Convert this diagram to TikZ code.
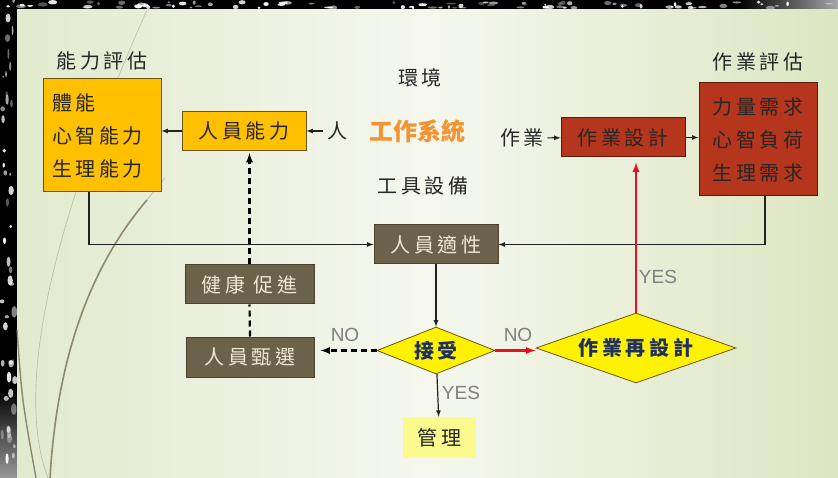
\documentclass[tikz,border=0pt]{standalone}
\usepackage{fontspec}
\usetikzlibrary{shapes.geometric}
\newfontfamily\cjk[LetterSpace=18]{Noto Sans CJK TC}
\newfontfamily\cjkplain{Noto Sans CJK TC}
\newfontfamily\yesno{Liberation Sans}
\definecolor{gold}{HTML}{FFC000}
\definecolor{goldline}{HTML}{6B5512}
\definecolor{rust}{HTML}{B5361C}
\definecolor{rustline}{HTML}{5A1A0A}
\definecolor{olive}{HTML}{6B6249}
\definecolor{oliveline}{HTML}{48432F}
\definecolor{olivetext}{HTML}{EFE7D2}
\definecolor{navy}{HTML}{1F2F5F}
\definecolor{paleyellow}{HTML}{FBFA8E}
\definecolor{sysorange}{HTML}{F59331}
\definecolor{bgedge}{HTML}{E1EACD}
\definecolor{bgmid}{HTML}{F5F7EE}
\definecolor{bgright}{HTML}{DCE6C2}
\definecolor{deco}{HTML}{7A7050}
\definecolor{flowline}{HTML}{222222}
\definecolor{redline}{HTML}{E8101C}
\tikzset{
  >=latex,
  txt/.style={font=\cjk\fontsize{20}{33}\selectfont, text=black!85},
  goldbox/.style={txt, draw=goldline, fill=gold, line width=1pt, inner sep=0pt},
  rustbox/.style={txt, draw=rustline, fill=rust, line width=1pt, inner sep=0pt},
  olivebox/.style={txt, draw=oliveline, fill=olive, text=olivetext, line width=1pt, inner sep=0pt},
  single/.style={minimum width=124, minimum height=39},
  tall/.style={minimum width=118, minimum height=113},
  decision/.style={diamond, shape aspect=2.5, draw=goldline, fill=yellow, line width=0.8pt,
    inner sep=0pt, font=\cjk\bfseries\fontsize{20}{22}\selectfont, text=navy},
  answer/.style={font=\yesno\fontsize{19}{22}\selectfont, text=black!50},
  flow/.style={line width=1.2pt, draw=flowline},
  redflow/.style={line width=2.2pt, draw=redline},
  hint/.style={line width=2.2pt, draw=black, dash pattern=on 6pt off 4pt},
}
\newcommand{\GenericBox}[5]{
  \node [#1] (#2) at (#3, #4) {#5};
}
\newcommand{\StraightFlow}[3]{
  \draw [#1, ->] (#2) -- (#3);
}

\begin{document}
\begin{tikzpicture}[x=1pt, y=-1pt]
        \useasboundingbox (0,0) rectangle (838,478);

        % slide frame and background
        \fill [black] (0,0) rectangle (838,10);
        \fill [black] (0,0) rectangle (17,478);
        \shade [left color=black, right color=gray!70] (740,0) rectangle (838,10);
        \shade [top color=black, bottom color=gray!80] (0,390) rectangle (17,478);
        \pgfmathsetseed{17}
        \foreach \i in {1,...,90} {
          \pgfmathsetmacro{\px}{rnd*830}
          \pgfmathsetmacro{\op}{0.3+0.7*rnd}
          \fill [white, opacity=\op] (\px, 2+rnd*6) ellipse ({1+rnd*4} and {0.8+rnd*1.5});
        }
        \foreach \i in {1,...,45} {
          \pgfmathsetmacro{\py}{rnd*470}
          \pgfmathsetmacro{\op}{0.3+0.7*rnd}
          \fill [white, opacity=\op] (2+rnd*13, \py) ellipse ({0.8+rnd*2} and {1+rnd*5});
        }
        \shade [left color=bgedge, right color=bgright, middle color=bgmid] (17,10) rectangle (838,478);

        % grass lines of the slide
        \draw [deco, line width=1.4pt, opacity=0.8] (17,330) .. controls (22,400) .. (36,478);
        \draw [deco, line width=0.6pt, opacity=0.4] (48,478) .. controls (18,400) and (40,250) .. (147,10);
        \draw [deco, line width=1.6pt, opacity=0.8] (50,478) .. controls (58,340) and (100,255) .. (147,200);
        \draw [deco, line width=0.8pt, opacity=0.4] (147,200) -- (165,178);

        % titles and free words
        \node [txt] (abilitytitle) at (102,61) {能力評估};
        \node [txt] (jobtitle) at (758,62) {作業評估};
        \node [txt] (env) at (420,78) {環境};
        \node [font=\cjkplain\bfseries\fontsize{24}{28}\selectfont, text=sysorange] (system) at (417,131) {工作系統};
        \node [txt] (tools) at (423,186) {工具設備};
        \node [txt] (person) at (337,131) {人};
        \node [txt] (task) at (522,138) {作業};

        % ability column
        \GenericBox{goldbox, tall, align=left, text width=100}{ability}{102}{135.5}{體能\\心智能力\\生理能力}
        \GenericBox{goldbox, single}{staff}{244}{131}{人員能力}
        \GenericBox{olivebox, minimum width=129, minimum height=39}{health}{249.5}{284.5}{健康 促進}
        \GenericBox{olivebox, minimum width=128, minimum height=40}{screen}{250}{357}{人員甄選}

        % job column
        \GenericBox{rustbox, single}{design}{623}{137.5}{作業設計}
        \GenericBox{rustbox, tall, align=center}{jobeval}{758}{139.5}{力量需求\\心智負荷\\生理需求}

        % fit and decisions
        \GenericBox{olivebox, single}{fit}{436}{244.5}{人員適性}
        \GenericBox{decision, minimum width=118, minimum height=47}{accept}{436}{350.5}{接受}
        \GenericBox{decision, minimum width=200, minimum height=70}{redesign}{636}{348}{作業再設計}
        \GenericBox{txt, fill=paleyellow, inner sep=0pt, minimum width=73, minimum height=41}{manage}{439.5}{437.5}{管理}

        % flows
        \StraightFlow{flow}{person}{staff}
        \draw [flow, ->] (staff.west) -- (staff.west -| ability.east);
        \StraightFlow{flow}{task}{design}
        \draw [flow, ->] (design.east) -- (design.east -| jobeval.west);
        \draw [flow, ->] ([xshift=-13]ability.south) |- (fit.west);
        \draw [flow, ->] ([xshift=7]jobeval.south) |- (fit.east);
        \StraightFlow{flow}{fit}{accept}
        \StraightFlow{flow}{accept}{manage}
        \draw [redflow, ->] (accept.east) -- (accept.east -| redesign.west);
        \draw [redflow, ->, shorten >=5pt] (redesign.north) -- (redesign.north |- design.south);
        \draw [hint, ->, shorten >=6pt] (accept.west) -- (accept.west -| screen.east);
        \draw [hint] (screen.north) -- (health.south);
        \draw [hint, ->, shorten >=2pt] (health.north) -- (health.north |- staff.south);

        % answers
        \node [answer] (leftno) at (345,335) {NO};
        \node [answer] (rightno) at (518,335) {NO};
        \node [answer] (downyes) at (461,393) {YES};
        \node [answer] (upyes) at (658,277) {YES};

\end{tikzpicture}
\end{document}
